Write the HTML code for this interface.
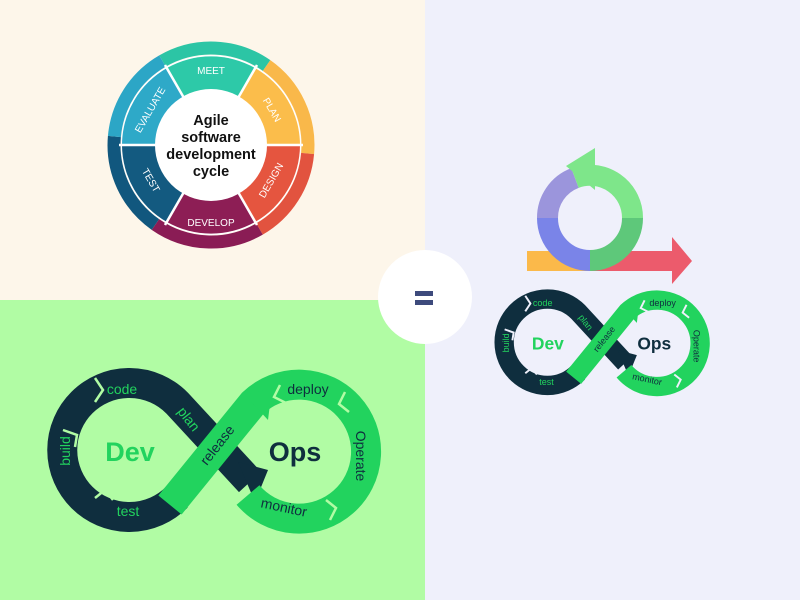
<!DOCTYPE html>
<html><head><meta charset="utf-8"><style>
html,body{margin:0;padding:0;width:800px;height:600px;overflow:hidden;background:#eff0fb}
svg{display:block}
text{font-family:"Liberation Sans",sans-serif}
</style></head><body>
<svg width="800" height="600" viewBox="0 0 800 600" xmlns="http://www.w3.org/2000/svg">
<rect x="0" y="0" width="800" height="600" fill="#eff0fb"/>
<rect x="0" y="0" width="425" height="300" fill="#fdf6ea"/>
<rect x="0" y="300" width="425" height="300" fill="#b1fca4"/>

<!-- Agile wheel -->
<g transform="translate(211,145)">
  <g fill="none" stroke-width="13">
    <path d="M -48.5 -84 A 97 97 0 0 1 55.6 -79.5" stroke="#2cc5a5"/>
    <path d="M 55.6 -79.5 A 97 97 0 0 1 96.6 8.5" stroke="#f9b84a"/>
    <path d="M 96.6 8.5 A 97 97 0 0 1 48.5 84" stroke="#e2533f"/>
    <path d="M 48.5 84 A 97 97 0 0 1 -55.6 79.5" stroke="#8a1c55"/>
    <path d="M -55.6 79.5 A 97 97 0 0 1 -96.6 -8.5" stroke="#11577e"/>
    <path d="M -96.6 -8.5 A 97 97 0 0 1 -48.5 -84" stroke="#2ca6c6"/>
  </g>
  <circle r="90" fill="#fff"/>
  <path d="M0 0 L-44 -77 A89 89 0 0 1 44 -77Z" fill="#2dc9a8"/>
  <path d="M0 0 L44 -77 A89 89 0 0 1 89 0Z" fill="#fbbd4b"/>
  <path d="M0 0 L89 0 A89 89 0 0 1 44 77Z" fill="#e5553f"/>
  <path d="M0 0 L44 77 A89 89 0 0 1 -44 77Z" fill="#8d1e55"/>
  <path d="M0 0 L-44 77 A89 89 0 0 1 -89 0Z" fill="#135a80"/>
  <path d="M0 0 L-89 0 A89 89 0 0 1 -44 -77Z" fill="#2ea9c8"/>
  <g stroke="#fff" stroke-width="2.5">
    <line x1="-46" y1="-80" x2="46" y2="80"/><line x1="46" y1="-80" x2="-46" y2="80"/><line x1="-92" y1="0" x2="92" y2="0"/>
  </g>
  <circle r="56" fill="#fff"/>
  <g fill="#fff" font-size="10" text-anchor="middle">
    <text x="0" y="-71">MEET</text>
    <text transform="rotate(60) translate(0,-67)">PLAN</text>
    <text transform="rotate(-60) translate(0,-67)">EVALUATE</text>
    <text transform="translate(63,37) rotate(-60)">DESIGN</text>
    <text transform="translate(-63,37) rotate(60)">TEST</text>
    <text x="0" y="81">DEVELOP</text>
  </g>
  <g fill="#111" font-size="14.5" font-weight="bold" text-anchor="middle">
    <text y="-20">Agile</text><text y="-3">software</text><text y="14">development</text><text y="31">cycle</text>
  </g>
</g>

<!-- equals -->
<circle cx="425" cy="297" r="47" fill="#fff"/>
<rect x="415" y="291" width="18" height="5" fill="#3d4a7c"/>
<rect x="415" y="300" width="18" height="5" fill="#3d4a7c"/>

<!-- loop icon -->
<rect x="527" y="251" width="64" height="20" fill="#fbb94a"/>
<rect x="591" y="251" width="82" height="20" fill="#ec5b6c"/>
<polygon points="672,237 692,261 672,284" fill="#ec5b6c"/>
<g fill="none" stroke-width="21">
  <path d="M 547.5 218 A 42.5 42.5 0 0 1 575 178" stroke="#9b95dc"/>
  <path d="M 547.5 218 A 42.5 42.5 0 0 0 590 260.5" stroke="#7a84e8"/>
  <path d="M 575 178 A 42.5 42.5 0 0 1 632.5 218" stroke="#7ee68a"/>
  <path d="M 632.5 218 A 42.5 42.5 0 0 1 590 260.5" stroke="#5ec87a"/>
</g>
<polygon points="595,148 566,166 595,190" fill="#7ee68a"/>

<!-- Big devops -->
<g>
  <path d="M 177 497 A 67 67 0 1 1 177 403 L 250 482" fill="none" stroke="#0f2e3e" stroke-width="30"/>
  <polygon points="238,462 268,470 255,502" fill="#0f2e3e"/>
  <path d="M 170 505 L 253 403 A 67 67 0 1 1 248 495" fill="none" stroke="#22d35e" stroke-width="30"/>
  <polygon points="245,395 272,388 268,420" fill="#22d35e"/>
  <g stroke="#b1fca4" stroke-width="2.5" fill="none">
    <path d="M 63 430 l 14 5 l -2 12"/><path d="M 95 378 l 8 12 l -8 12"/><path d="M 95 498 l 10 -8 l 8 10"/>
    <path d="M 345 392 l -6 12 l 10 8"/><path d="M 330 520 l 6 -12 l -10 -8"/><path d="M 280 385 l -6 12 l 12 6"/>
  </g>
  <g font-size="14" text-anchor="middle">
    <text x="122" y="394" fill="#22d35e">code</text>
    <text transform="translate(70,451) rotate(-90)" fill="#22d35e">build</text>
    <text x="128" y="516" fill="#22d35e">test</text>
    <text transform="translate(185,422) rotate(52)" fill="#22d35e">plan</text>
    <text transform="translate(221,448) rotate(-52)" fill="#0f2e3e">release</text>
    <text x="308" y="394" fill="#0f2e3e">deploy</text>
    <text transform="translate(356,456) rotate(90)" fill="#0f2e3e">Operate</text>
    <text transform="translate(283,512) rotate(12)" fill="#0f2e3e">monitor</text>
  </g>
  <text x="130" y="461" font-size="27" font-weight="bold" fill="#22d35e" text-anchor="middle">Dev</text>
  <text x="295" y="461" font-size="27" font-weight="bold" fill="#0f2e3e" text-anchor="middle">Ops</text>
</g>

<!-- Small devops -->
<g transform="translate(464,52) scale(0.645)">
  <path d="M 177 497 A 67 67 0 1 1 177 403 L 250 482" fill="none" stroke="#0f2e3e" stroke-width="30"/>
  <polygon points="238,462 268,470 255,502" fill="#0f2e3e"/>
  <path d="M 170 505 L 253 403 A 67 67 0 1 1 248 495" fill="none" stroke="#22d35e" stroke-width="30"/>
  <polygon points="245,395 272,388 268,420" fill="#22d35e"/>
  <g stroke="#eff0fb" stroke-width="3" fill="none">
    <path d="M 63 430 l 14 5 l -2 12"/><path d="M 95 378 l 8 12 l -8 12"/><path d="M 95 498 l 10 -8 l 8 10"/>
    <path d="M 345 392 l -6 12 l 10 8"/><path d="M 330 520 l 6 -12 l -10 -8"/><path d="M 280 385 l -6 12 l 12 6"/>
  </g>
  <g font-size="14" text-anchor="middle">
    <text x="122" y="394" fill="#22d35e">code</text>
    <text transform="translate(70,451) rotate(-90)" fill="#22d35e">build</text>
    <text x="128" y="516" fill="#22d35e">test</text>
    <text transform="translate(185,422) rotate(52)" fill="#22d35e">plan</text>
    <text transform="translate(221,448) rotate(-52)" fill="#0f2e3e">release</text>
    <text x="308" y="394" fill="#0f2e3e">deploy</text>
    <text transform="translate(356,456) rotate(90)" fill="#0f2e3e">Operate</text>
    <text transform="translate(283,512) rotate(12)" fill="#0f2e3e">monitor</text>
  </g>
  <text x="130" y="461" font-size="27" font-weight="bold" fill="#22d35e" text-anchor="middle">Dev</text>
  <text x="295" y="461" font-size="27" font-weight="bold" fill="#0f2e3e" text-anchor="middle">Ops</text>
</g>
</svg>
</body></html>
